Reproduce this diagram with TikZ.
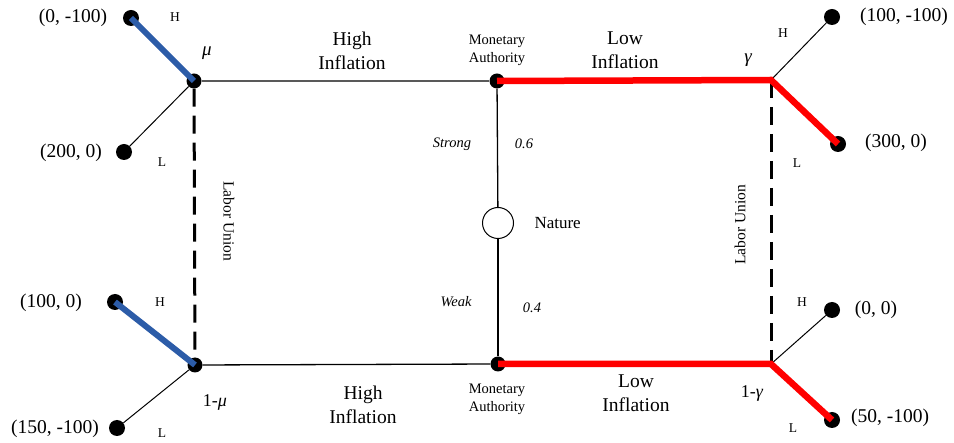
\documentclass[tikz,border=0pt]{standalone}
\usepackage{fontspec}
\setmainfont{Liberation Serif}
\usetikzlibrary{positioning}

\definecolor{hiblue}{RGB}{44,92,168}
\definecolor{lored}{RGB}{255,0,0}

\begin{document}
\begin{tikzpicture}[x=1pt, y=-1pt, node distance=20pt,
    dot/.style={circle, fill=black, inner sep=0pt, minimum size=16pt},
    chance/.style={circle, draw, line width=1pt, fill=white, inner sep=0pt, minimum size=31pt},
    big/.style={font=\fontsize{19.5}{24}\selectfont, align=center},
    pay/.style={font=\fontsize{19.5}{24}\selectfont},
    small/.style={font=\fontsize{14.5}{18}\selectfont, align=center},
    hl/.style={font=\fontsize{13.5}{16}\selectfont},
    prob/.style={font=\itshape\fontsize{14.5}{17}\selectfont},
    greek/.style={font=\itshape\fontsize{19}{22}\selectfont},
    union/.style={font=\fontsize{15.5}{18}\selectfont},
    leaf/.style={line width=1pt},
    stem/.style={line width=1.3pt},
    grayline/.style={line width=2pt, draw=black!65},
    infoset/.style={line width=3pt, dash pattern=on 18pt off 9pt},
    bluepath/.style={line width=6pt, draw=hiblue},
    redpath/.style={line width=6.5pt, draw=lored}]
        \useasboundingbox (0,0) rectangle (954,443);

        % decision nodes
        \node[dot, minimum size=15pt] (LT) at (194,81) {};
        \node[dot, minimum size=15pt] (LB) at (195,365) {};
        \node[dot, minimum size=15pt] (MT) at (497,81) {};
        \node[dot, minimum size=15pt] (MB) at (498,364) {};
        \node[chance] (N) at (498,223) {};
        \coordinate (RT) at (771,80);
        \coordinate (RB) at (771,364);

        % end nodes
        \node[dot] (l1) at (131,18) {};
        \node[dot] (l2) at (124,152) {};
        \node[dot] (l3) at (115,302) {};
        \node[dot] (l4) at (117,428) {};
        \node[dot] (l5) at (832,17) {};
        \node[dot] (l6) at (838,144) {};
        \node[dot] (l7) at (832,310) {};
        \node[dot] (l8) at (832,420) {};

        \path
            (LT) edge[grayline] (MT)
            (LB) edge[stem] (MB)
            (MT) edge[stem] (N)
            (N) edge[stem] (MB)
            (LT) edge[infoset] (LB)
            (RT) edge[infoset] (RB)
            (LT) edge[leaf] (l2)
            (LB) edge[leaf] (l4)
            (RT) edge[leaf] (l5)
            (RB) edge[leaf] (l7);

        \draw[bluepath] (LT.center) -- (l1.center);
        \draw[bluepath] (LB.center) -- (l3.center);
        \draw[redpath] (MT.center) -- (RT) -- (l6.center);
        \draw[redpath] (MB.center) -- (RB) -- (l8.center);

        % payoffs
        \node[pay] (p1) at (73,18) {(0, -100)};
        \node[pay] (p2) at (71,153) {(200, 0)};
        \node[pay] (p3) at (51,303) {(100, 0)};
        \node[pay] (p4) at (55,429) {(150, -100)};
        \node[pay] (p5) at (904,17) {(100, -100)};
        \node[pay] (p6) at (896,143) {(300, 0)};
        \node[pay] (p7) at (876,310) {(0, 0)};
        \node[pay] (p8) at (890,418) {(50, -100)};

        % actions
        \node[hl] (h1) at (175,17) {H};
        \node[hl] (h2) at (162,162) {L};
        \node[hl] (h3) at (160,302) {H};
        \node[hl] (h4) at (162,433) {L};
        \node[hl] (h5) at (783,33) {H};
        \node[hl] (h6) at (797,163) {L};
        \node[hl] (h7) at (802,302) {H};
        \node[hl] (h8) at (793,428) {L};

        \node[big] (hi1) at (352,51) {High\\Inflation};
        \node[big] (hi2) at (363,405) {High\\Inflation};
        \node[big] (lo1) at (625,50) {Low\\Inflation};
        \node[big] (lo2) at (636,393) {Low\\Inflation};

        \node[small] (ma1) at (497,50) {Monetary\\Authority};
        \node[small] (ma2) at (497,399) {Monetary\\Authority};

        % beliefs and chance
        \node[greek] (mu) at (207,53) {μ};
        \node[font=\fontsize{18}{21}\selectfont] (mu1) at (215,402) {1-\textit{μ}};
        \node[greek] (ga) at (748,60) {γ};
        \node[font=\fontsize{18}{21}\selectfont] (ga1) at (752,393) {1-\textit{γ}};

        \node[prob] (st) at (452,144) {Strong};
        \node[prob] (p06) at (524,144) {0.6};
        \node[prob] (wk) at (456,302) {Weak};
        \node[prob] (p04) at (532,308) {0.4};
        \node[font=\fontsize{17}{20}\selectfont] (nat) [right=17pt of N] {Nature};

        \node[union, rotate=-90] (lu1) at (229,221) {Labor Union};
        \node[union, rotate=90] (lu2) at (740,225) {Labor Union};
    \end{tikzpicture}
\end{document}
